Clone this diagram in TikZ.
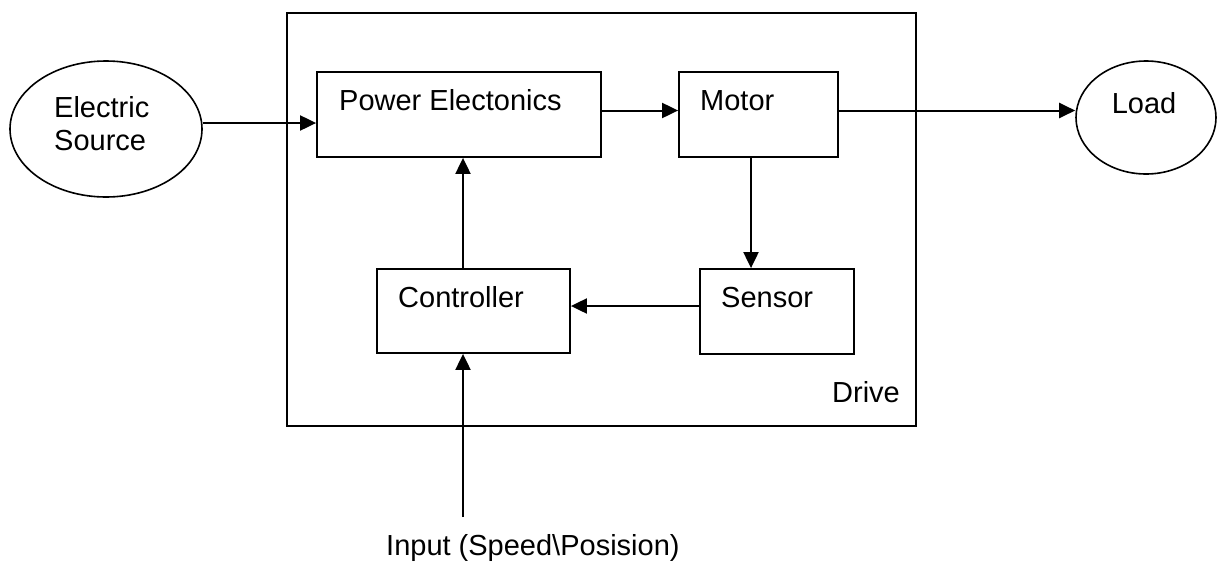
\documentclass[tikz,border=0pt]{standalone}
\usepackage{fontspec}
\setmainfont{Liberation Sans}
\usetikzlibrary{arrows.meta,shapes.geometric}
\begin{document}
\begin{tikzpicture}[x=1pt,y=-1pt,
  box/.style={draw, line width=1.8pt, rectangle, inner sep=0pt},
  oval/.style={draw, line width=1.6pt, ellipse, inner sep=0pt},
  lbl/.style={anchor=base west, inner sep=0pt, font=\fontsize{29}{33}\selectfont},
  arr/.style={line width=2pt, -{Triangle[length=16pt,width=15pt]}}]
\useasboundingbox (0,0) rectangle (1217,563);

% drive frame
\node[box, minimum width=629pt, minimum height=413pt] (drive) at (601.5,219.5) {};
\node[lbl] (drivetxt) at (832,402) {Drive};

% ellipses
\node[oval, minimum width=192pt, minimum height=136pt] (es) at (106,129) {};
\node[lbl, align=left, anchor=north west] (estxt) at (54,96.5) {Electric\\Source};
\node[oval, minimum width=140pt, minimum height=113pt] (load) at (1146,117.5) {};
\node[lbl, anchor=base] (loadtxt) at (1144,113) {Load};

% blocks
\node[box, minimum width=284pt, minimum height=85pt] (pe) at (459,114.5) {};
\node[lbl] (petxt) at (339,110) {Power Electonics};
\node[box, minimum width=159pt, minimum height=85pt] (motor) at (758.5,114.5) {};
\node[lbl] (motortxt) at (700,110) {Motor};
\node[box, minimum width=193pt, minimum height=84pt] (ctrl) at (473.5,311) {};
\node[lbl] (ctrltxt) at (398,307) {Controller};
\node[box, minimum width=154pt, minimum height=85pt] (sensor) at (777,311.5) {};
\node[lbl] (sensortxt) at (721,307) {Sensor};

% input
\node[lbl] (inputtxt) at (386,555) {Input (Speed\textbackslash Posision)};
\coordinate (in) at (463,517);

% connectors
\draw[arr] ([yshift=6pt]es.east) -- ([yshift=6pt]es.east -| pe.west);
\draw[arr] ([yshift=4pt]pe.east) -- ([yshift=4pt]pe.east -| motor.west);
\draw[arr] ([yshift=4pt]motor.east) -- ([yshift=4pt]motor.east -| load.west);
\draw[arr] ([xshift=-7.5pt]motor.south) -- ([xshift=-7.5pt]motor.south |- sensor.north);
\draw[arr] ([yshift=5.5pt]sensor.west) -- ([yshift=5.5pt]sensor.west -| ctrl.east);
\draw[arr] ([xshift=-10.5pt]ctrl.north) -- ([xshift=-10.5pt]ctrl.north |- pe.south);
\draw[arr] (in) -- (in |- ctrl.south);
\end{tikzpicture}
\end{document}
